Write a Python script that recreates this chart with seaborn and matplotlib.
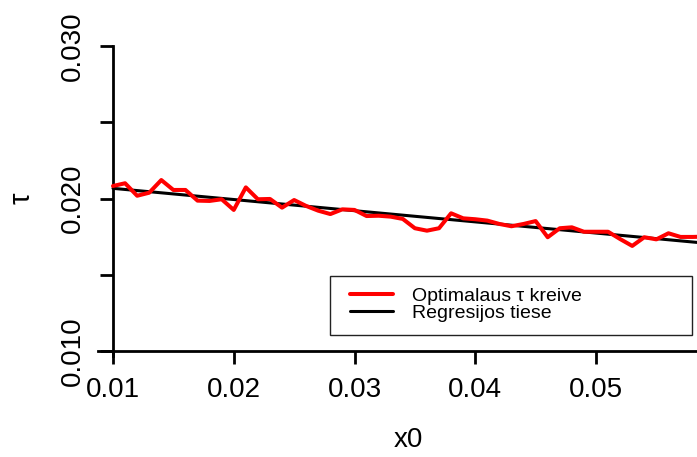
import numpy as np
import pandas as pd
import matplotlib
matplotlib.use("Agg")
import matplotlib.pyplot as plt
from matplotlib.patches import Rectangle
import seaborn as sns

# ---- data ----
x0 = [0.010, 0.011, 0.012, 0.013, 0.014, 0.015, 0.016, 0.017, 0.018, 0.019,
      0.020, 0.021, 0.022, 0.023, 0.024, 0.025, 0.026, 0.027, 0.028, 0.029,
      0.030, 0.031, 0.032, 0.033, 0.034, 0.035, 0.036, 0.037, 0.038, 0.039,
      0.040, 0.041, 0.042, 0.043, 0.044, 0.045, 0.046, 0.047, 0.048, 0.049,
      0.050, 0.051, 0.052, 0.053, 0.054, 0.055, 0.056, 0.057, 0.058, 0.059]
tau = [0.02082, 0.02100, 0.02018, 0.02038, 0.02121, 0.02056, 0.02056, 0.01986, 0.01984, 0.01995,
       0.01925, 0.02073, 0.01995, 0.01997, 0.01940, 0.01990, 0.01951, 0.01920, 0.01898, 0.01929,
       0.01925, 0.01885, 0.01887, 0.01881, 0.01866, 0.01805, 0.01789, 0.01805, 0.01903, 0.01870,
       0.01864, 0.01855, 0.01833, 0.01818, 0.01833, 0.01852, 0.01746, 0.01805, 0.01811, 0.01782,
       0.01782, 0.01782, 0.01734, 0.01689, 0.01746, 0.01732, 0.01772, 0.01748, 0.01748, 0.01750]

x_ticks = [0.01, 0.02, 0.03, 0.04, 0.05]
x_tick_labels = ["0.01", "0.02", "0.03", "0.04", "0.05"]
y_ticks = [0.010, 0.015, 0.020, 0.025, 0.030]
y_tick_labels = ["0.010", "", "0.020", "", "0.030"]

label_curve = "Optimalaus τ kreive"
label_reg = "Regresijos tiese"

# ---- figure ----
sns.set_theme(style="white")
plt.rcParams["font.family"] = ["Liberation Sans", "DejaVu Sans"]

W, H = 697, 457
fig = plt.figure(figsize=(W / 100, H / 100), dpi=100)
ax = fig.add_axes([98 / W, (H - 356) / H, 599 / W, 310 / H])

df = pd.DataFrame({"x0": x0, "tau": tau})
coef = np.polyfit(x0, tau, 1)
reg_x = [x0[0], x0[-1]]
reg_df = pd.DataFrame({"x0": reg_x, "tau": np.polyval(coef, reg_x)})

sns.lineplot(data=df, x="x0", y="tau", color="#ff0000", lw=2.9, ax=ax,
             label=label_curve, zorder=3)
sns.lineplot(data=reg_df, x="x0", y="tau", color="black", lw=2.2, ax=ax,
             label=label_reg, zorder=2)

ax.set_xlim(0.01 - 15 / 12075, 0.01 + 599 / 12075 - 15 / 12075)
ax.set_ylim(0.010 - 5 / 15250, 0.030)

for s in ["top", "right"]:
    ax.spines[s].set_visible(False)
ax.spines["left"].set_position(("data", 0.01))
ax.spines["bottom"].set_position(("data", 0.010))
for s in ["left", "bottom"]:
    ax.spines[s].set_color("black")
    ax.spines[s].set_linewidth(2.0)

ax.set_xticks(x_ticks)
ax.set_xticklabels(x_tick_labels)
ax.set_yticks(y_ticks)
ax.set_yticklabels(y_tick_labels, rotation=90, va="center")
ax.tick_params(axis="both", direction="out", length=9.5, width=2.0,
               color="black", labelsize=20, labelcolor="black", bottom=True, left=True)
ax.tick_params(axis="x", pad=9)
ax.tick_params(axis="y", pad=10)

ax.set_xlabel("x0", fontsize=20, color="black")
ax.set_ylabel("τ", fontsize=21, color="black")
ax.xaxis.set_label_coords((408 - 98) / 599, (356 - 440) / 310)
ax.xaxis.label.set_va("center")
ax.yaxis.set_label_coords((22 - 98) / 599, (356 - 198) / 310)
ax.yaxis.label.set_va("center")

# legend box (drawn separately, like R's legend frame)
box_top, box_bot, box_left, box_right = 276, 335, 330, 692
ax.add_patch(Rectangle((box_left / W, 1 - box_bot / H),
                       (box_right - box_left) / W, (box_bot - box_top) / H,
                       transform=fig.transFigure, facecolor="white",
                       edgecolor="#222222", lw=1.0, zorder=4, clip_on=False))

leg = ax.legend(loc="upper left", bbox_to_anchor=(350 / W, 1 - 287 / H),
                bbox_transform=fig.transFigure,
                fontsize=14, frameon=False,
                handlelength=2.2, handletextpad=1.0, borderpad=0.0,
                labelspacing=0.0, borderaxespad=0.0)
leg.set_zorder(5)
for t in leg.get_texts():
    t.set_color("black")

fig.savefig("out.png", dpi=100)
